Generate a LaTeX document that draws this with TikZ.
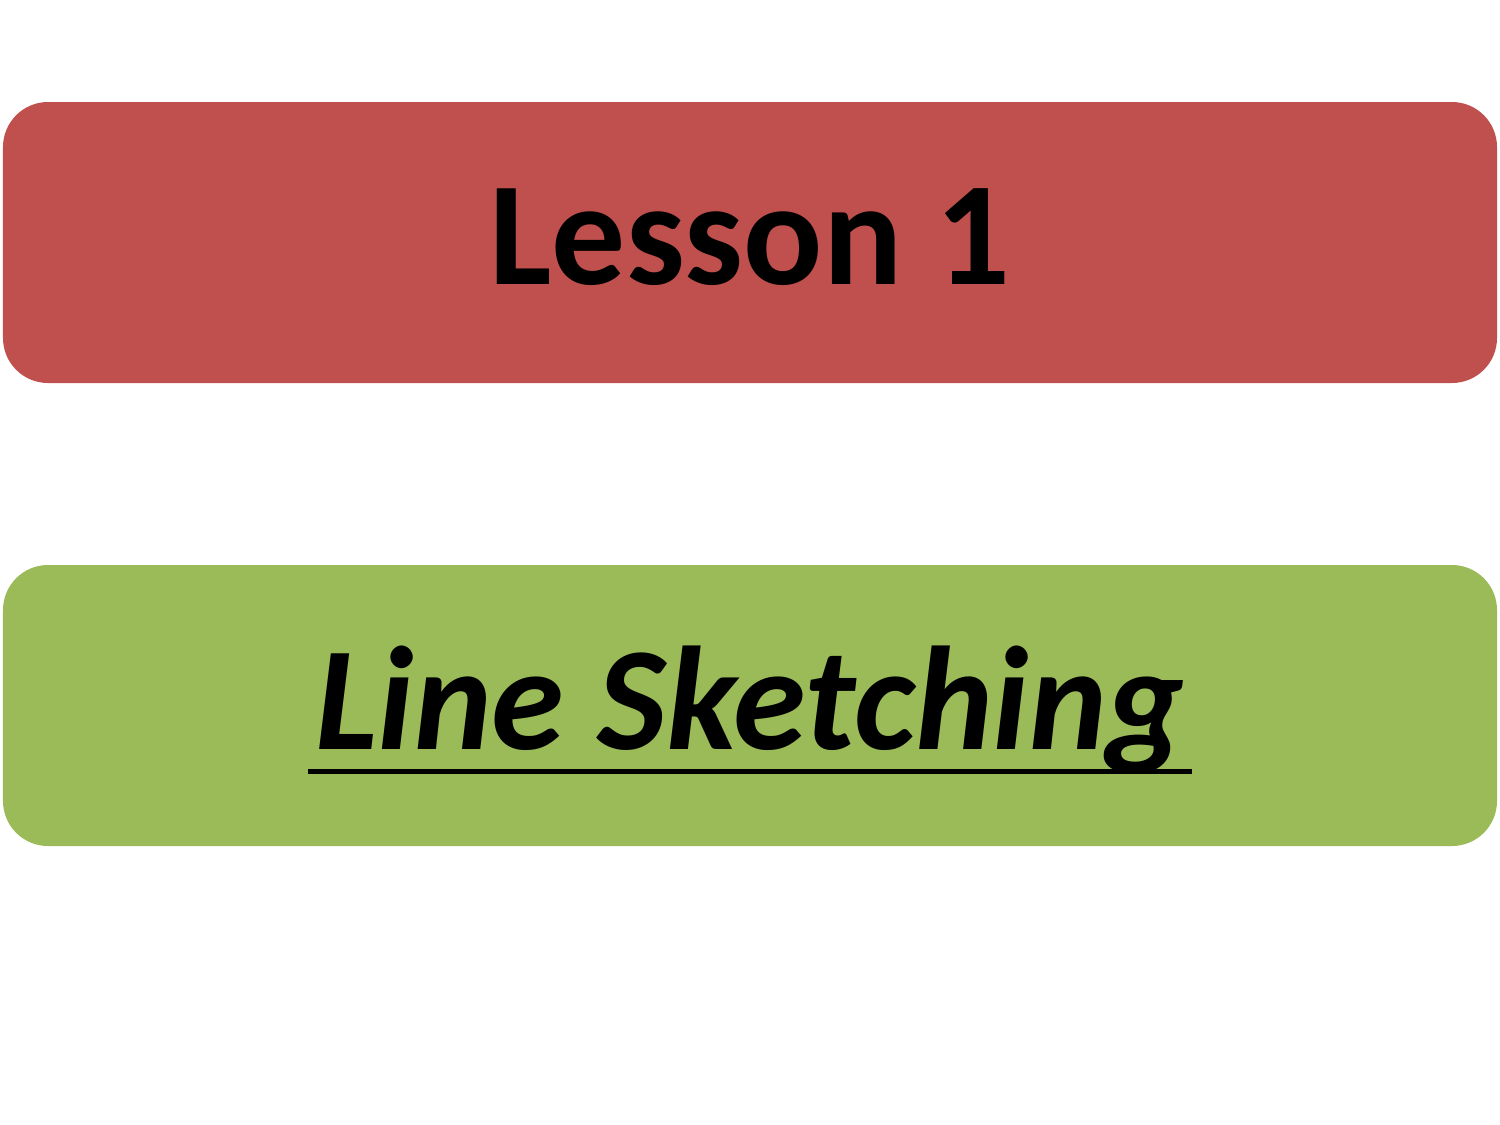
\documentclass[tikz,border=0pt]{standalone}
\usepackage{fontspec}
\setmainfont{Carlito}
\usepackage{tikz}
\usetikzlibrary{shapes}
\usetikzlibrary{backgrounds}
\definecolor{lessonred}{HTML}{C0504D}
\definecolor{topicgreen}{HTML}{9BBB59}
\tikzset{banner/.style={rounded corners=0.45cm,minimum width=14.94cm,minimum height=2.81cm,inner sep=0pt},
  title/.style={inner sep=0pt,font=\fontsize{42}{50}\selectfont\bfseries}}

\begin{document}
\begin{tikzpicture}
\useasboundingbox (0,0) rectangle (15,-11.25);
\node [banner,fill=lessonred] (lesson) at (7.5,-2.425) {};
\node [banner,fill=topicgreen] (topic) at (7.5,-7.055) {};
\node [title] (lessontext) at ([yshift=0.05cm]lesson) {Lesson 1};
\node [title,font=\fontsize{42}{50}\selectfont\bfseries\itshape] (topictext) at ([yshift=-0.05cm]topic) {Line Sketching};
\draw [line width=0.05cm] ([xshift=-0.07cm,yshift=-0.22cm]topictext.base west) -- ([xshift=0.07cm,yshift=-0.22cm]topictext.base east);
\end{tikzpicture}
\end{document}
